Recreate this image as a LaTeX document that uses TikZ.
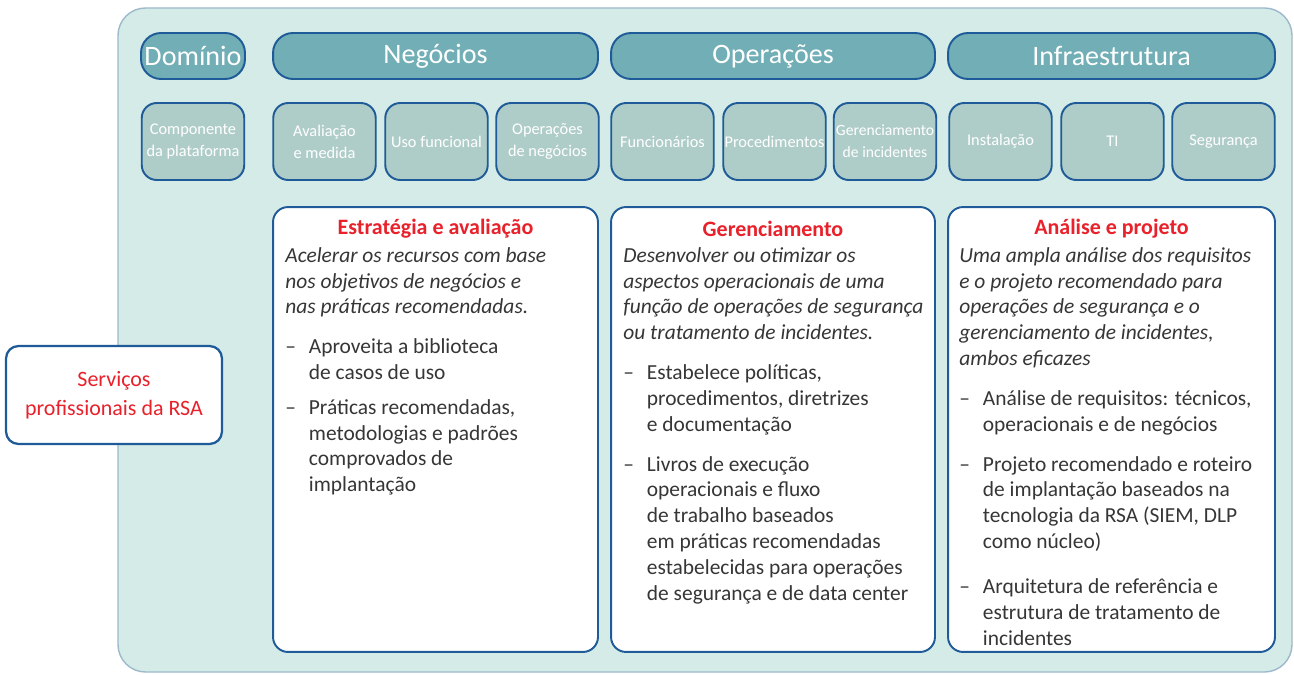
\documentclass[tikz,border=0pt]{standalone}
\usepackage{fontspec}
\setmainfont{Carlito}
\usetikzlibrary{positioning}

\definecolor{bgteal}{HTML}{D4EBE7}
\definecolor{rim}{HTML}{9DB9CC}
\definecolor{hdrteal}{HTML}{71AEB6}
\definecolor{subteal}{HTML}{AFCDC8}
\definecolor{navy}{HTML}{1E5B98}
\definecolor{rsared}{HTML}{E8212B}
\definecolor{bodytxt}{HTML}{363636}

\newcommand{\trc}{\makebox[1.1em][l]{--}}
\newcommand{\ind}{\hspace*{1.1em}}

\begin{document}
\begin{tikzpicture}[x=0.02cm,y=-0.02cm,
  hdr/.style={draw=navy,line width=1.1pt,fill=hdrteal,rounded corners=0.4cm,minimum height=0.92cm,text=white,font=\fontsize{16}{18}\selectfont,inner sep=0pt},
  sub/.style={draw=navy,line width=1.1pt,fill=subteal,rounded corners=0.3cm,minimum width=2.05cm,minimum height=1.54cm,text=white,align=center,font=\fontsize{9.3}{12.5}\selectfont,inner sep=0pt},
  panel/.style={draw=navy,line width=1.1pt,fill=white,rounded corners=0.3cm,minimum height=8.9cm,inner sep=0pt},
  ptitle/.style={text=rsared,font=\bfseries\fontsize{12.5}{15}\selectfont,inner sep=0pt},
  pbody/.style={text=bodytxt,align=left,font=\fontsize{12.2}{14.7}\selectfont,inner sep=0pt,anchor=north west}]
\useasboundingbox (0,0) rectangle (1294,675);
% background
\draw[rim,line width=0.8pt,fill=bgteal,rounded corners=0.55cm] (118,8) rectangle (1292,672);
% header row
\node[hdr,minimum width=2.08cm] (dom) at (193,56) {Domínio};
\node[hdr,minimum width=6.5cm] (neg) at (435.5,56) {Negócios};
\node[hdr,minimum width=6.48cm] (ope) at (773,56) {Operações};
\node[hdr,minimum width=6.54cm] (inf) at (1111.5,56) {Infraestrutura};
% components
\node[sub] (comp) at (193,141.5) {Componente\\da plataforma};
\node[sub] (aval) at (324.5,141.5) {Avaliação\\e medida};
\node[sub] (uso) at (436.5,141.5) {Uso funcional};
\node[sub] (opneg) at (547.5,141.5) {Operações\\de negócios};
\node[sub] (func) at (662.5,141.5) {Funcionários};
\node[sub] (proc) at (774.5,141.5) {Procedimentos};
\node[sub,font=\fontsize{8.9}{12.5}\selectfont] (gerinc) at (885,141.5) {Gerenciamento\\de incidentes};
\node[sub] (inst) at (1000.5,141.5) {Instalação};
\node[sub] (ti) at (1112.5,141.5) {TI};
\node[sub] (seg) at (1223.5,141.5) {Segurança};
% service panels
\node[panel,minimum width=6.5cm] (estr) at (435.5,429.5) {};
\node[panel,minimum width=6.48cm] (gere) at (773,429.5) {};
\node[panel,minimum width=6.54cm] (anal) at (1111.5,429.5) {};
\node[ptitle] (estrt) at (435.5,229) {Estratégia e avaliação};
\node[ptitle] (geret) at (773,229) {Gerenciamento};
\node[ptitle] (analt) at (1111.5,229) {Análise e projeto};
\node[pbody] (estrb) at (285,247) {\itshape Acelerar os recursos com base\\
  \itshape nos objetivos de negócios e\\
  \itshape nas práticas recomendadas.\\[8pt]
  \trc Aproveita a biblioteca\\
  \ind de casos de uso\\[5pt]
  \trc Práticas recomendadas,\\
  \ind metodologias e padrões\\
  \ind comprovados de\\
  \ind implantação};
\node[pbody] (gereb) at (623,247) {\itshape Desenvolver ou otimizar os\\
  \itshape aspectos operacionais de uma\\
  \itshape função de operações de segurança\\
  \itshape ou tratamento de incidentes.\\[8pt]
  \trc Estabelece políticas,\\
  \ind procedimentos, diretrizes\\
  \ind e documentação\\[8pt]
  \trc Livros de execução\\
  \ind operacionais e fluxo\\
  \ind de trabalho baseados\\
  \ind em práticas recomendadas\\
  \ind estabelecidas para operações\\
  \ind de segurança e de data center};
\node[pbody] (analb) at (959,247) {\itshape Uma ampla análise dos requisitos\\
  \itshape e o projeto recomendado para\\
  \itshape operações de segurança e o\\
  \itshape gerenciamento de incidentes,\\
  \itshape ambos eficazes\\[8pt]
  \trc Análise de requisitos: técnicos,\\
  \ind operacionais e de negócios\\[8pt]
  \trc Projeto recomendado e roteiro\\
  \ind de implantação baseados na\\
  \ind tecnologia da RSA (SIEM, DLP\\
  \ind como núcleo)\\[11pt]
  \trc Arquitetura de referência e\\
  \ind estrutura de tratamento de\\
  \ind incidentes};
% RSA box
\node[draw=navy,line width=1.3pt,fill=white,rounded corners=0.25cm,minimum width=4.32cm,minimum height=1.96cm,text=rsared,align=center,font=\fontsize{12.5}{16.5}\selectfont] (rsa) at (114,395) {Serviços\\profissionais da RSA};
\end{tikzpicture}
\end{document}
